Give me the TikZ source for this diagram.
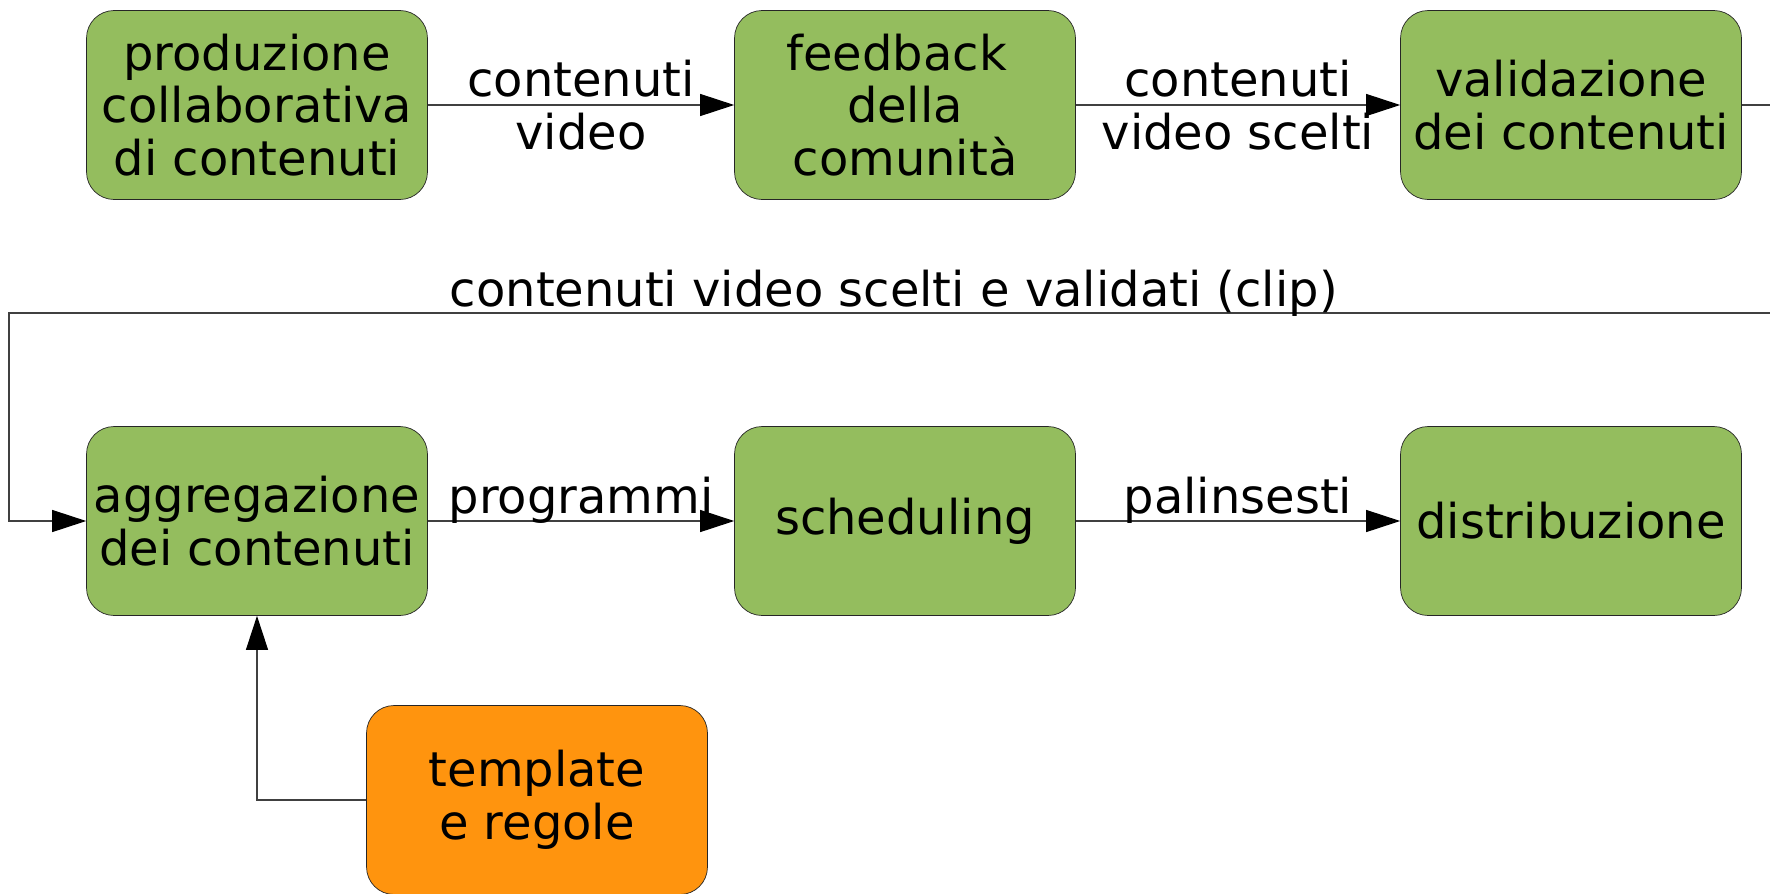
\documentclass[tikz,border=0pt]{standalone}
\usepackage{fontspec}
\setmainfont{DejaVu Sans}
\usetikzlibrary{arrows.meta}
\definecolor{boxgreen}{RGB}{148,189,94}
\definecolor{boxorange}{RGB}{255,148,14}

\begin{document}
\begin{tikzpicture}[x=0.02cm,y=-0.02cm,
  stage/.style={draw=black!85,fill=boxgreen,rounded corners=0.55cm,minimum width=6.82cm,minimum height=3.78cm,align=center,inner sep=0pt,font=\fontsize{27.3}{30}\selectfont},
  input/.style={stage,fill=boxorange},
  flow/.style={draw=black!75,line width=0.6pt,-{Triangle[length=0.68cm,width=0.44cm,color=black]}},
  lbl/.style={align=center,inner sep=0pt,font=\fontsize{27.3}{30}\selectfont}]
\useasboundingbox (0,0) rectangle (1770,893);
% first row
\node[stage] (prod) at (257,105) {produzione\\collaborativa\hspace*{0.33cm}\\di contenuti};
\node[stage] (feed) at (905,105) {feedback\hspace*{0.33cm}\\della\hspace*{0.33cm}\\comunità};
\node[stage] (valid) at (1571,105) {validazione\\dei contenuti};
% second row
\node[stage] (aggr) at (257,521) {aggregazione\\dei contenuti};
\node[stage] (sched) at (905,521) {scheduling};
\node[stage] (distr) at (1571,521) {distribuzione};
\node[input] (tmpl) at (537,800) {template\\e regole};
% return path (runs off the right edge)
\coordinate (offr) at (1800,313);
\coordinate (offl) at (9,313);
\draw[flow] (prod) -- node[lbl] {contenuti\\video} (feed);
\draw[flow] (feed) -- node[lbl] {contenuti\\video scelti} (valid);
\draw[flow] (valid.east) -| (offr) -- node[lbl,pos=0.506,yshift=0.4cm] {contenuti video scelti e validati (clip)} (offl) |- (aggr.west);
\draw[flow] (aggr) -- node[lbl,yshift=0.42cm] {programmi} (sched);
\draw[flow] (sched) -- node[lbl,yshift=0.42cm] {palinsesti} (distr);
\draw[flow] (tmpl.west) -| (aggr.south);
\end{tikzpicture}
\end{document}
